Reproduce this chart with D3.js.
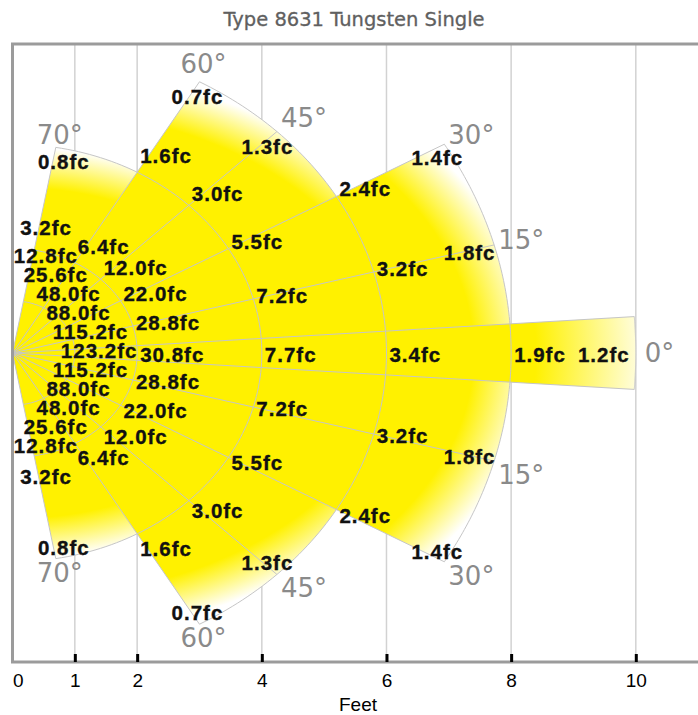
<!DOCTYPE html>
<html><head><meta charset="utf-8">
<script src="https://cdn.jsdelivr.net/npm/d3@7"></script>
<style>body{margin:0;background:#fff}</style>
</head><body><svg id="chart" width="698" height="715"></svg>
<script>
// ---------- data ----------
const chartTitle = "Type 8631 Tungsten Single";
const axisTicks = [0, 1, 2, 4, 6, 8, 10];
const gridFeet = [1, 2, 4, 6, 8, 10];
const distances = [1, 2, 4, 6, 8, 10];
const beamAngles = [0, 15, 30, 45, 60, 70];
const fcAt0 = [123.2, 30.8, 7.7, 3.4, 1.9, 1.2];
const fcAt15 = [115.2, 28.8, 7.2, 3.2, 1.8];
const fcAt30 = [88.0, 22.0, 5.5, 2.4, 1.4];
const fcAt45 = [48.0, 12.0, 3.0, 1.3];
const fcAt60 = [25.6, 6.4, 1.6, 0.7];
const fcAt70 = [12.8, 3.2, 0.8];
const zoneHalfAngles = [80, 60, 30, 4];
const zoneReach = [4, 6, 8, 10];
const fcSeries = [fcAt0, fcAt15, fcAt30, fcAt45, fcAt60, fcAt70];

// ---------- style ----------
const YEL = "#fff100";
const zoneFade = [[4.1, 5.1], [6.1, 7.1], [7.4, 8.4], [8.4, 10.3]];
const GRAD_Y = 0.648;

const svg = d3.select("#chart");
const xs = d3.scaleLinear().domain([0, 10]).range([12.5, 635.8]);
const ys = d3.scaleLinear().domain([-5.92, 5.92]).range([662, 44]);
const TOP = ys.range()[1], BOT = ys.range()[0];
const ox = xs(0), oy = ys(0);
const rad = a => a * Math.PI / 180;
const P = (d, a) => [xs(d * Math.cos(rad(a))), ys(d * Math.sin(rad(a)))];
const edgeAngle = d3.max(zoneHalfAngles);
const lastBeam = beamAngles[beamAngles.length - 1];
const labelAngle = a => a === lastBeam ? edgeAngle : a;
const reachAt = a => d3.max(zoneHalfAngles.map((h, i) => h >= a ? zoneReach[i] : 0));
const spanAt = d => d3.max(zoneReach.map((r, i) => r >= d ? zoneHalfAngles[i] : 0));
const arcPts = (d, a0, a1) => d3.range(0, 121).map(k => P(d, a0 + (a1 - a0) * k / 120));
const line = d3.line();

// title
svg.append("text").attr("x", 354).attr("y", 26).attr("text-anchor", "middle")
  .attr("font-family", "DejaVu Sans").attr("font-size", 19.5).attr("fill", "#606060")
  .attr("stroke", "#606060").attr("stroke-width", 0.3)
  .text(chartTitle);

// vertical grid
svg.append("g").selectAll("line").data(gridFeet).join("line")
  .attr("x1", d => xs(d)).attr("x2", d => xs(d)).attr("y1", TOP).attr("y2", BOT)
  .attr("stroke", "#d2d2d2").attr("stroke-width", 1.5);

// gradients + zones
const defs = svg.append("defs");
const zones = zoneHalfAngles.map((h, i) => ({half: h, reach: zoneReach[i], fade: zoneFade[i], i}));
zones.forEach(z => {
  const R = xs(z.fade[1]) - xs(0);
  const g = defs.append("radialGradient").attr("id", "g" + z.i)
    .attr("gradientUnits", "userSpaceOnUse").attr("cx", 0).attr("cy", 0).attr("r", R)
    .attr("gradientTransform", `translate(${ox},${oy}) scale(1,${GRAD_Y})`);
  g.append("stop").attr("offset", 0).attr("stop-color", YEL);
  g.append("stop").attr("offset", z.fade[0] / z.fade[1]).attr("stop-color", YEL);
  g.append("stop").attr("offset", 1).attr("stop-color", "#ffffff");
});
svg.append("g").selectAll("path").data(zones).join("path")
  .attr("d", z => line([[ox, oy], ...arcPts(z.reach, -z.half, z.half)]) + "Z")
  .attr("fill", z => `url(#g${z.i})`);

// rings & spokes
const lines = svg.append("g").attr("fill", "none").attr("stroke", "#c6c6c6").attr("stroke-width", 1);
distances.forEach(d => {
  const s = spanAt(d);
  lines.append("path").attr("d", line(arcPts(d, -s, s)));
});
const spokeAngles = Array.from(new Set([...zoneHalfAngles, ...beamAngles.filter(a => a > 0).map(labelAngle)]));
spokeAngles.forEach(a => {
  [1, -1].forEach(sg => {
    lines.append("path").attr("d", line([[ox, oy], P(reachAt(a), sg * a)]));
  });
});

// frame
svg.append("path").attr("d", `M698,${TOP}H${ox}V${BOT}H698`).attr("fill", "none")
  .attr("stroke", "#9b9b9b").attr("stroke-width", 3);

// bottom axis
const axis = svg.append("g").attr("transform", `translate(0,${BOT})`)
  .call(d3.axisBottom(xs).tickValues(axisTicks).tickSizeInner(-8).tickSizeOuter(0).tickPadding(12).tickFormat(d3.format("d")));
axis.select(".domain").remove();
axis.selectAll(".tick line").attr("stroke", "#000").attr("stroke-width", 3)
  .attr("display", d => d === 0 ? "none" : null);
axis.selectAll(".tick text").attr("font-family", "Liberation Sans, Arial").attr("font-size", 19).attr("fill", "#000")
  .attr("text-anchor", d => d === 0 ? "start" : "middle");
svg.append("text").attr("x", 358).attr("y", 711).attr("text-anchor", "middle")
  .attr("font-family", "Liberation Sans, Arial").attr("font-size", 19).attr("fill", "#000").text("Feet");

// fc labels
const lab = svg.append("g").attr("font-family", "Liberation Sans, Arial").attr("font-weight", "bold")
  .attr("font-size", 20.5).attr("letter-spacing", 1).attr("fill", "#111")
  .attr("stroke", "#111").attr("stroke-width", 0.35);
beamAngles.forEach((a, ai) => {
  const vals = fcSeries[ai];
  const la = labelAngle(a);
  const signs = a === 0 ? [1] : [1, -1];
  vals.forEach((v, j) => {
    const d = distances[j];
    const outer = j === vals.length - 1;
    signs.forEach(sg => {
      let x, y, anchor = "start";
      if (j === 0) {
        const [px] = P(d, sg * a);
        x = px - 20 + (a === 0 ? 6 : 0); y = oy + 5 - sg * 19 * ai;
      } else if (outer) {
        const [px, py] = P(d, sg * la);
        anchor = "middle";
        x = px - 32 + 0.5 * la + (a === 30 ? 10 : 0);
        y = a === 0 ? py + 9 : py + sg * Math.min(13, 0.4 * la) + 9;
      } else {
        const [px, py] = P(d, sg * la);
        x = px + (la === edgeAngle ? -14 : 3);
        y = a === 0 ? py + 9 : (sg > 0 ? py + 9 - 0.3 * la : py + 4 + 0.3 * la);
      }
      lab.append("text").attr("x", x).attr("y", y).attr("text-anchor", anchor).text(v.toFixed(1) + "fc");
    });
  });
});

// angle labels
const ang = svg.append("g").attr("font-family", "DejaVu Sans").attr("font-size", 26).attr("fill", "#8a8a8a");
beamAngles.forEach(a => {
  const la = labelAngle(a);
  const r = reachAt(la);
  const signs = a === 0 ? [1] : [1, -1];
  signs.forEach(sg => {
    const [px, py] = P(r, sg * la);
    const mid = la >= 60;
    const x = mid ? px + 4 : px + (a === 0 ? 9 : 4);
    let y;
    if (a === 0) y = py + 9;
    else if (sg > 0) y = py + 9 - 0.3 * Math.min(la, 60) + (la > 60 ? 6 : 0);
    else y = py + 23;
    ang.append("text").attr("x", x).attr("y", y).attr("text-anchor", mid ? "middle" : "start").text(a + "°");
  });
});
</script>
</body></html>
